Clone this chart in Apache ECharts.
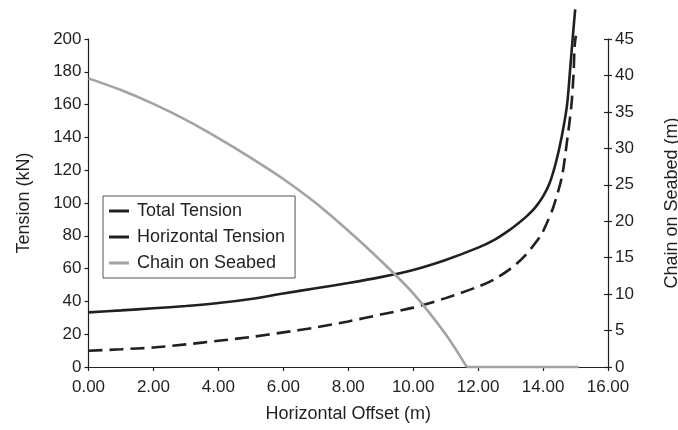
<!DOCTYPE html>
<html><head><meta charset="utf-8">
<script src="https://cdn.jsdelivr.net/npm/echarts@6/dist/echarts.min.js"></script>
<style>html,body{margin:0;padding:0;background:#fff}#c{width:678px;height:430px}</style>
</head><body><div id="c"></div>
<script>
// Horizontal offset (m) sample points and values
const totalX = [0, 1, 2, 3, 4, 5, 6, 7, 8, 9, 10, 11, 12, 12.5, 13, 13.25, 13.5, 13.75, 14.0, 14.2, 14.4, 14.58, 14.74, 14.84, 14.94, 14.99];
const totalTension = [33.3, 34.5, 35.8, 37.2, 39, 41.5, 44.8, 48, 51.2, 54.8, 59.2, 65.3, 72.8, 77.5, 84, 87.8, 92, 97, 104, 112, 125, 141, 160, 183, 207, 218];

const horizX = [0, 1, 2, 3, 4, 5, 6, 7, 8, 9, 10, 11, 12, 12.5, 13, 13.4, 13.91, 14.1, 14.32, 14.58, 14.74, 14.87, 14.94, 14.97, 15.01];
const horizontalTension = [9.9, 10.8, 11.9, 13.8, 16, 18.3, 21.1, 24.1, 27.8, 32, 36.2, 42, 49, 53.5, 60, 67, 79.5, 87, 97.7, 116, 138, 159, 179, 195, 202];

// chain on seabed: curved part, then flat part lying on the seabed
const chainX = [0, 1, 2, 3, 4, 5, 6, 7, 8, 9, 10, 11, 11.65];
const chainOnSeabed = [39.6, 38.0, 36.1, 33.9, 31.4, 28.7, 25.8, 22.5, 18.7, 14.6, 10.1, 4.5, 0];
const chainFlatX = [11.65, 15.1];
const chainFlat = [0, 0];

const xTickLabels = ['0.00', '2.00', '4.00', '6.00', '8.00', '10.00', '12.00', '14.00', '16.00'];
const leftTickLabels = ['0', '20', '40', '60', '80', '100', '120', '140', '160', '180', '200'];
const rightTickLabels = ['0', '5', '10', '15', '20', '25', '30', '35', '40', '45'];

const zip = (xs, ys) => xs.map((x, i) => [x, ys[i]]);
const FONT = 'Liberation Sans, Arial, sans-serif';
const INK = '#231f20';
const GREY = '#a3a3a3';

const chart = echarts.init(document.getElementById('c'));
chart.setOption({
  animation: false,
  backgroundColor: '#fff',
  grid: { left: 88.5, right: 70, top: 39, bottom: 63, containLabel: false, outerBoundsMode: 'none' },
  legend: {
    orient: 'vertical', left: 103, top: 196,
    padding: [5, 10, 5, 6],
    borderColor: '#555', borderWidth: 1,
    icon: 'rect', itemWidth: 20, itemHeight: 3, itemGap: 6,
    textStyle: { fontFamily: FONT, fontSize: 18, color: INK, lineHeight: 20, padding: [0, 0, 0, 3] },
    data: ['Total Tension', 'Horizontal Tension', 'Chain on Seabed']
  },
  xAxis: {
    type: 'value', min: 0, max: 16, interval: 2,
    name: 'Horizontal Offset (m)', nameLocation: 'middle', nameGap: 38,
    nameTextStyle: { fontFamily: FONT, fontSize: 18, color: INK },
    axisLine: { show: true, onZero: false, lineStyle: { color: INK, width: 1.2 } },
    axisTick: { show: true, length: 4, lineStyle: { color: INK, width: 1.2 } },
    axisLabel: { fontFamily: FONT, fontSize: 17, color: INK, margin: 12,
      formatter: v => xTickLabels[Math.round(v / 2)] },
    splitLine: { show: false }
  },
  yAxis: [{
    type: 'value', min: 0, max: 200, interval: 20,
    name: 'Tension (kN)', nameLocation: 'middle', nameGap: 55, nameRotate: 90,
    nameTextStyle: { fontFamily: FONT, fontSize: 18, color: INK },
    axisLine: { show: true, lineStyle: { color: INK, width: 1.2 } },
    axisTick: { show: true, length: 4, lineStyle: { color: INK, width: 1.2 } },
    axisLabel: { fontFamily: FONT, fontSize: 17, color: INK, margin: 7,
      formatter: v => leftTickLabels[Math.round(v / 20)] },
    splitLine: { show: false }
  }, {
    type: 'value', min: 0, max: 45, interval: 5, position: 'right',
    name: 'Chain on Seabed (m)', nameLocation: 'middle', nameGap: 55, nameRotate: 90,
    nameTextStyle: { fontFamily: FONT, fontSize: 18, color: INK },
    axisLine: { show: true, lineStyle: { color: INK, width: 1.2 } },
    axisTick: { show: true, length: 4, lineStyle: { color: INK, width: 1.2 } },
    axisLabel: { fontFamily: FONT, fontSize: 17, color: INK, margin: 7,
      formatter: v => rightTickLabels[Math.round(v / 5)] },
    splitLine: { show: false }
  }, {
    type: 'value', min: 0, max: 45, interval: 5, position: 'right',
    axisLine: { show: false },
    axisTick: { show: true, inside: true, length: 4, lineStyle: { color: INK, width: 1.2 } },
    axisLabel: { show: false },
    splitLine: { show: false }
  }],
  series: [{
    name: 'Total Tension', type: 'line', yAxisIndex: 0, clip: false,
    showSymbol: false, symbol: 'none', smooth: 0.3,
    lineStyle: { color: INK, width: 2.6 }, itemStyle: { color: INK },
    data: zip(totalX, totalTension)
  }, {
    name: 'Horizontal Tension', type: 'line', yAxisIndex: 0, clip: false,
    showSymbol: false, symbol: 'none', smooth: 0.3,
    lineStyle: { color: INK, width: 2.6, type: [14, 7] }, itemStyle: { color: INK },
    data: zip(horizX, horizontalTension)
  }, {
    name: 'Chain on Seabed', type: 'line', yAxisIndex: 1, clip: false,
    showSymbol: false, symbol: 'none', smooth: 0.3,
    lineStyle: { color: GREY, width: 2.6 }, itemStyle: { color: GREY },
    data: zip(chainX, chainOnSeabed)
  }, {
    name: 'Chain on Seabed', type: 'line', yAxisIndex: 1, clip: false,
    showSymbol: false, symbol: 'none', smooth: false,
    lineStyle: { color: GREY, width: 2.6 }, itemStyle: { color: GREY },
    data: zip(chainFlatX, chainFlat)
  }]
});
</script></body></html>
